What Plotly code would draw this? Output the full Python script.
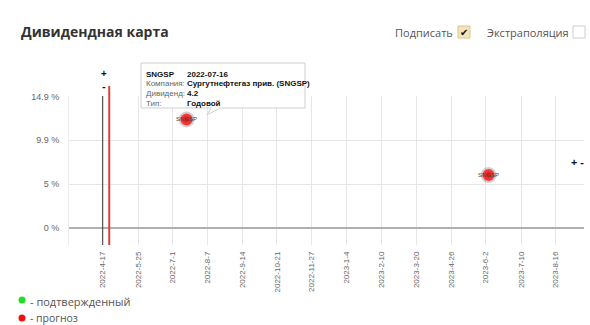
import plotly.graph_objects as go

# ---- data ----
tick_dates = ["2022-04-17", "2022-05-25", "2022-07-01", "2022-08-07", "2022-09-14",
              "2022-10-21", "2022-11-27", "2023-01-04", "2023-02-10", "2023-03-20",
              "2023-04-26", "2023-06-02", "2023-07-10", "2023-08-16"]
tick_labels = ["2022-4-17", "2022-5-25", "2022-7-1", "2022-8-7", "2022-9-14",
               "2022-10-21", "2022-11-27", "2023-1-4", "2023-2-10", "2023-3-20",
               "2023-4-26", "2023-6-2", "2023-7-10", "2023-8-16"]
y_ticks = [0, 4.967, 9.933, 14.9]
y_tick_labels = ["0 %", "5 %", "9.9 %", "14.9 %"]

point_dates = ["2022-07-16", "2023-06-05"]
point_yields = [12.3, 6.0]
point_labels = ["SNGSP", "SNGSP"]

today_date = "2022-04-17"
forecast_date = "2022-04-24"

tip_rows = [("SNGSP", "2022-07-16"),
            ("Компания:", "Сургутнефтегаз прив. (SNGSP)"),
            ("Дивиденд:", "4.2"),
            ("Тип:", "Годовой")]

# ---- layout geometry (pixels) ----
W, H = 590, 325
L, R, T, B = 69, 584, 96, 245


def px(xp):
    return (xp - L) / (R - L)


def py(yp):
    return (B - yp) / (B - T)


fig = go.Figure()

# shadow
fig.add_trace(go.Scatter(
    x=point_dates, y=point_yields, mode="markers",
    marker=dict(size=16, color="rgba(0,0,0,0.18)", line=dict(width=0)),
    hoverinfo="skip", showlegend=False))
fig.add_trace(go.Scatter(
    x=point_dates, y=point_yields, mode="markers+text", text=point_labels,
    textposition="middle center",
    textfont=dict(size=6, color="#444", family="Liberation Sans"),
    marker=dict(size=12, color="#ff4040",
                gradient=dict(type="radial", color="#d81818"),
                line=dict(width=0)),
    showlegend=False))

shapes = []
# today line (black) and forecast line (red)
shapes.append(dict(type="line", xref="x", yref="paper", x0=today_date, x1=today_date,
                   y0=0, y1=1, line=dict(color="#333", width=1)))
shapes.append(dict(type="line", xref="x", yref="paper", x0=forecast_date, x1=forecast_date,
                   y0=0, y1=py(86), line=dict(color="#d9403c", width=2)))

# tooltip box
shapes.append(dict(type="rect", xref="paper", yref="paper",
                   x0=px(141), x1=px(305), y0=py(108), y1=py(63),
                   fillcolor="white", line=dict(color="#cfcfcf", width=1), layer="above"))
shapes.append(dict(type="path", xref="paper", yref="paper",
                   path=f"M {px(211)},{py(108)} L {px(207)},{py(115)} L {px(220)},{py(108)}",
                   fillcolor="white", line=dict(color="#cfcfcf", width=1), layer="above"))
shapes.append(dict(type="line", xref="paper", yref="paper",
                   x0=px(211.5), x1=px(219.5), y0=py(108), y1=py(108),
                   line=dict(color="white", width=1.5), layer="above"))

# checkboxes
shapes.append(dict(type="rect", xref="paper", yref="paper",
                   x0=px(458), x1=px(470), y0=py(38), y1=py(26),
                   fillcolor="#f7e3b8", line=dict(color="#dcc68f", width=1)))
shapes.append(dict(type="rect", xref="paper", yref="paper",
                   x0=px(573), x1=px(585), y0=py(38), y1=py(26),
                   fillcolor="white", line=dict(color="#cccccc", width=1)))

# legend dots
shapes.append(dict(type="circle", xref="paper", yref="paper",
                   x0=px(18.5), x1=px(25.5), y0=py(303.5), y1=py(296.5),
                   fillcolor="#22dd22", line=dict(width=0)))
shapes.append(dict(type="circle", xref="paper", yref="paper",
                   x0=px(18.5), x1=px(25.5), y0=py(321.5), y1=py(314.5),
                   fillcolor="#ee1111", line=dict(width=0)))

ann = []


def text(xp, yp, s, size=11, color="#555", family="Open Sans", xanchor="left", bold=False):
    if bold:
        s = "<b>" + s + "</b>"
    ann.append(dict(x=px(xp), y=py(yp), xref="paper", yref="paper", text=s, showarrow=False,
                    xanchor=xanchor, yanchor="middle",
                    font=dict(size=size, color=color, family=family)))


text(19, 31, "Дивидендная карта", size=14, color="#333", bold=True)
text(455, 32, "Подписать", size=11, color="#555", xanchor="right")
text(464, 32, "✔", size=10, color="#111", xanchor="center")
text(571, 32, "Экстраполяция", size=11, color="#555", xanchor="right")
text(28, 301, "- подтвержденный", size=11, color="#555")
text(28, 318, "- прогноз", size=10.5, color="#555")

# +/- controls
text(103.5, 80, "+<br>-", size=10, color="#111", xanchor="center", bold=True)
text(577.5, 161, "+ -", size=11, color="#111", xanchor="center", bold=True)

# tooltip text
row_y = [74, 84, 93.5, 103]
for i, (lab, val) in enumerate(tip_rows):
    if i == 0:
        text(144, row_y[i], lab, size=8, color="#111", family="Liberation Sans", bold=True)
    else:
        text(144, row_y[i], lab, size=8, color="#666", family="Liberation Sans")
    text(185, row_y[i], val, size=8, color="#111", family="Liberation Sans", bold=True)

fig.update_layout(
    width=W, height=H,
    margin=dict(l=L, r=W - R, t=T, b=H - B),
    paper_bgcolor="white", plot_bgcolor="white",
    shapes=shapes, annotations=ann,
    xaxis=dict(type="date", range=["2022-03-11 20:00", "2023-09-15 10:00"],
               tickvals=tick_dates, ticktext=tick_labels, tickangle=-90,
               tickfont=dict(size=8, color="#666", family="Liberation Sans"),
               showgrid=True, gridcolor="#e6e6e6", gridwidth=1,
               zeroline=False, showline=False, ticks="", ticklabelstandoff=4,
               fixedrange=True),
    yaxis=dict(range=[-1.92, 14.95], tickvals=y_ticks, ticktext=y_tick_labels,
               tickfont=dict(size=9, color="#666", family="Liberation Sans"),
               showgrid=True, gridcolor="#e6e6e6", gridwidth=1,
               zeroline=True, zerolinecolor="#b0b0b0", zerolinewidth=2,
               showline=True, linecolor="#ececec", linewidth=1,
               ticks="", ticklabelstandoff=7, fixedrange=True),
    showlegend=False,
)

fig.write_html("out.html", config={"displayModeBar": False})
